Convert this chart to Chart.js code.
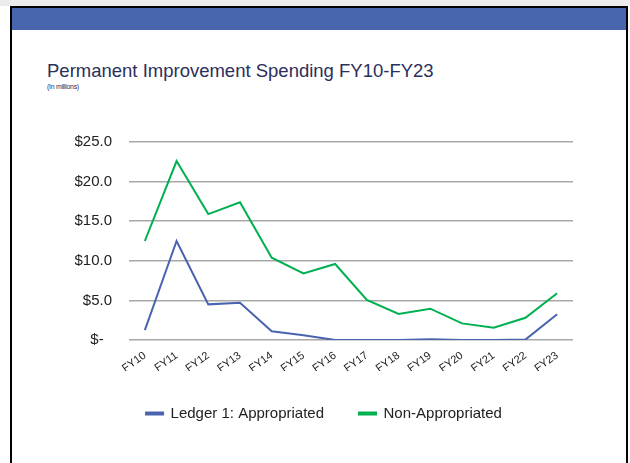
<!doctype html>
<html>

<head>
	<title>Permanent Improvement Spending FY10-FY23</title>
	<script src="https://cdn.jsdelivr.net/npm/chart.js@4/dist/chart.umd.min.js"></script>
	<style>
	body {
		margin: 0;
		background: #fff;
		font-family: 'Liberation Sans', Arial, sans-serif;
	}
	#strip { position: absolute; left: 0; top: 0; width: 630px; height: 6px; background: #ececec; }
	#frame {
		position: absolute; left: 10px; top: 6px; width: 614px; height: 470px;
		border: 2px solid #000; border-bottom: none;
	}
	#band { position: absolute; left: 0; top: 0; width: 614px; height: 22px; background: #4965ad; }
	#title {
		position: absolute; left: 47px; top: 60px;
		font-size: 18.5px; color: #2b2f5c; white-space: nowrap;
	}
	#sub {
		position: absolute; left: 47px; top: 83px;
		font-size: 7px; color: #2b2f5c; letter-spacing: -0.3px; white-space: nowrap;
	}
	canvas { position: absolute; left: 0; top: 0; }
	</style>
</head>

<body>
	<div id="strip"></div>
	<div id="frame"><div id="band"></div></div>
	<div id="title">Permanent Improvement Spending FY10-FY23</div>
	<div id="sub">(In millions)</div>
	<canvas id="canvas" width="630" height="463"></canvas>
	<script>
		const years = ['FY10', 'FY11', 'FY12', 'FY13', 'FY14', 'FY15', 'FY16',
			'FY17', 'FY18', 'FY19', 'FY20', 'FY21', 'FY22', 'FY23'];
		const appropriated = [1.25, 12.5, 4.5, 4.7, 1.1, 0.6, 0.0,
			0.0, 0.0, 0.1, 0.0, 0.0, 0.05, 3.25];
		const nonAppropriated = [12.5, 22.6, 15.9, 17.4, 10.4, 8.4, 9.6,
			5.05, 3.3, 3.95, 2.1, 1.55, 2.8, 5.9];

		const font = 'Liberation Sans';
		const ctx = document.getElementById('canvas').getContext('2d');
		new Chart(ctx, {
			type: 'line',
			data: {
				labels: years,
				datasets: [{
					label: 'Ledger 1: Appropriated',
					data: appropriated,
					borderColor: '#4a63ae',
					backgroundColor: '#4a63ae',
					borderWidth: 2,
					pointRadius: 0,
					tension: 0
				}, {
					label: 'Non-Appropriated',
					data: nonAppropriated,
					borderColor: '#00b050',
					backgroundColor: '#00b050',
					borderWidth: 2,
					pointRadius: 0,
					tension: 0
				}]
			},
			options: {
				responsive: false,
				animation: false,
				layout: {
					padding: {left: 75, right: 57, top: 142, bottom: 32}
				},
				scales: {
					x: {
						offset: true,
						grid: {display: false, drawTicks: false},
						border: {display: false},
						ticks: {
							font: {family: font, size: 11},
							color: '#222',
							minRotation: 36,
							maxRotation: 36,
							padding: 9
						},
						afterFit: (scale) => { scale.height = 31; }
					},
					y: {
						min: 0,
						max: 25,
						grid: {color: '#a8a8a8', lineWidth: 1.5, drawTicks: false},
						border: {display: false},
						ticks: {
							stepSize: 5,
							font: {family: font, size: 15},
							color: '#222',
							padding: 17,
							callback: (v) => v === 0 ? '$-  ' : '$' + v.toFixed(1)
						},
						afterFit: (scale) => { scale.width = 54; }
					}
				},
				plugins: {
					legend: {
						position: 'bottom',
						labels: {
							font: {family: font, size: 15},
							color: '#222',
							boxWidth: 17,
							boxHeight: 2,
							padding: 35
						}
					},
					tooltip: {enabled: false}
				}
			}
		});
	</script>
</body>

</html>
